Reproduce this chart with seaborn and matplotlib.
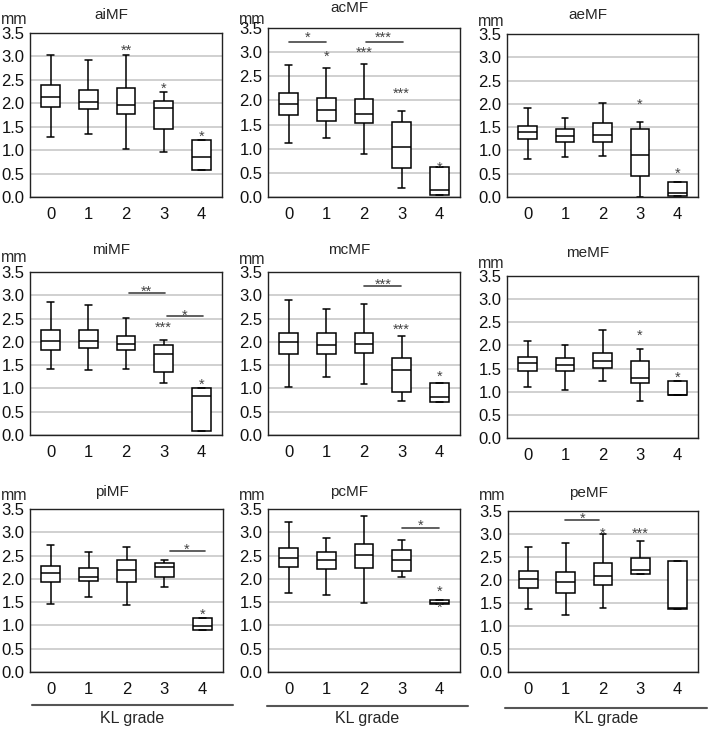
import numpy as np
import pandas as pd
import matplotlib
matplotlib.use("Agg")
import matplotlib.pyplot as plt
from matplotlib.lines import Line2D
import seaborn as sns

# five-number summaries per KL grade: [min, q1, median, q3, max]
grades = [0, 1, 2, 3, 4]
titles = ["aiMF", "acMF", "aeMF", "miMF", "mcMF", "meMF", "piMF", "pcMF", "peMF"]

aiMF = [[1.28, 1.92, 2.13, 2.38, 3.04], [1.34, 1.87, 2.02, 2.28, 2.93], [1.02, 1.78, 1.96, 2.33, 3.04],
        [0.95, 1.45, 1.90, 2.04, 2.24], [0.57, 0.57, 0.85, 1.21, 1.21]]
acMF = [[1.12, 1.70, 1.93, 2.15, 2.73], [1.23, 1.58, 1.81, 2.05, 2.67], [0.89, 1.53, 1.72, 2.03, 2.75],
        [0.19, 0.60, 1.04, 1.55, 1.79], [0.05, 0.05, 0.15, 0.62, 0.62]]
aeMF = [[0.81, 1.24, 1.40, 1.53, 1.91], [0.86, 1.18, 1.32, 1.46, 1.70], [0.89, 1.18, 1.34, 1.59, 2.01],
        [0.01, 0.46, 0.90, 1.45, 1.61], [0.02, 0.02, 0.09, 0.33, 0.33]]
miMF = [[1.42, 1.82, 2.01, 2.25, 2.85], [1.39, 1.87, 2.01, 2.25, 2.79], [1.42, 1.82, 1.96, 2.12, 2.51],
        [1.11, 1.35, 1.74, 1.93, 2.03], [0.08, 0.08, 0.83, 1.01, 1.01]]
mcMF = [[1.04, 1.74, 2.00, 2.20, 2.89], [1.24, 1.74, 1.93, 2.18, 2.70], [1.10, 1.76, 1.96, 2.18, 2.82],
        [0.73, 0.93, 1.39, 1.65, 2.13], [0.70, 0.70, 0.81, 1.11, 1.11]]
meMF = [[1.11, 1.45, 1.61, 1.75, 2.09], [1.04, 1.45, 1.58, 1.73, 2.01], [1.24, 1.51, 1.66, 1.84, 2.33],
        [0.81, 1.19, 1.30, 1.66, 1.92], [0.93, 0.93, 0.93, 1.24, 1.24]]
piMF = [[1.47, 1.93, 2.12, 2.28, 2.73], [1.61, 1.96, 2.05, 2.24, 2.58], [1.43, 1.93, 2.20, 2.41, 2.69],
        [1.83, 2.04, 2.25, 2.34, 2.40], [0.90, 0.90, 0.98, 1.17, 1.17]]
pcMF = [[1.70, 2.25, 2.45, 2.66, 3.22], [1.66, 2.21, 2.41, 2.58, 2.87], [1.48, 2.24, 2.52, 2.74, 3.35],
        [2.05, 2.16, 2.41, 2.62, 2.83], [1.47, 1.47, 1.49, 1.54, 1.54]]
peMF = [[1.37, 1.83, 2.03, 2.20, 2.72], [1.25, 1.72, 1.96, 2.17, 2.81], [1.39, 1.89, 2.09, 2.36, 3.00],
        [2.12, 2.14, 2.22, 2.48, 2.85], [1.36, 1.36, 1.40, 2.42, 2.42]]
panel_stats = [aiMF, acMF, aeMF, miMF, mcMF, meMF, piMF, pcMF, peMF]

# significance marks: (x, y, text) and bars: (x0, x1, y)
stars = [
    [(2, 3.20, "**"), (3, 2.40, "*"), (4, 1.36, "*")],
    [(0.5, 3.37, "*"), (1, 2.98, "*"), (2, 3.07, "***"), (2.5, 3.37, "***"), (3, 2.23, "***"), (4, 0.68, "*")],
    [(3, 2.07, "*"), (4, 0.58, "*")],
    [(2.55, 3.17, "**"), (3.55, 2.65, "*"), (3, 2.38, "***"), (4, 1.16, "*")],
    [(2.5, 3.32, "***"), (3, 2.35, "***"), (4, 1.34, "*")],
    [(3, 2.30, "*"), (4, 1.39, "*")],
    [(3.6, 2.71, "*"), (4, 1.32, "*")],
    [(3.5, 3.23, "*"), (4, 1.80, "*"), (4, 1.47, "*")],
    [(1.45, 3.42, "*"), (2, 3.10, "*"), (3, 3.10, "***")],
]
bars = [
    [],
    [(0, 1, 3.22), (2.05, 3.03, 3.22)],
    [],
    [(2.08, 3.03, 3.04), (3.08, 4.04, 2.56)],
    [(2.0, 2.97, 3.20)],
    [],
    [(3.14, 4.07, 2.59)],
    [(3.0, 4.0, 3.09)],
    [(0.97, 1.9, 3.30)],
]

rows = []
for name, stats in zip(titles, panel_stats):
    for g, s in zip(grades, stats):
        for v in s:
            rows.append({"panel": name, "grade": g, "mm": v})
df = pd.DataFrame(rows)

sns.set_style("white")
plt.rcParams["font.family"] = ["Liberation Sans", "DejaVu Sans"]

W, H = 708, 730
fig = plt.figure(figsize=(W / 100, H / 100), dpi=100)

# axes boxes in pixels: left, right, top, bottom
boxes = [(30, 222, 33, 197), (268, 460, 28, 197), (507, 698, 34, 197),
         (30, 222, 272, 435), (268, 460, 272, 435), (507, 698, 276, 438),
         (30, 223, 509, 672), (268, 460, 509, 672), (508, 698, 511, 672)]
title_dy = [18, 20, 19, 22, 22, 23, 17, 17, 18]
mm_dy = [14, 9, 12, 15, 12, 13, 14, 14, 16]

for i, name in enumerate(titles):
    l, r, t, b = boxes[i]
    ax = fig.add_axes([l / W, 1 - b / H, (r - l) / W, (b - t) / H])
    sub = df[df["panel"] == name]
    sns.boxplot(data=sub, x="grade", y="mm", whis=(0, 100), width=0.5,
                color="white", linecolor="black", linewidth=1.1,
                capwidths=0.18, ax=ax)
    ax.set_ylim(0, 3.5)
    ax.set_xlim(-0.55, 4.55)
    ax.set_yticks(np.arange(0, 3.51, 0.5))
    ax.set_yticklabels([f"{v:.1f}" for v in np.arange(0, 3.51, 0.5)])
    ax.set_xlabel("")
    ax.set_ylabel("")
    ax.tick_params(axis="both", length=0, labelsize=12, colors="#111111")
    ax.tick_params(axis="y", pad=4)
    ax.tick_params(axis="x", pad=7)
    ax.yaxis.grid(True, color="#c8c8c8", linewidth=1.2)
    ax.set_axisbelow(True)
    for sp in ax.spines.values():
        sp.set_color("#222222")
        sp.set_linewidth(1.0)

    ax.annotate(name, xy=(0.5, 1), xycoords="axes fraction", xytext=(-15, title_dy[i]),
                textcoords="offset pixels", ha="center", va="center", fontsize=11)
    ax.annotate("mm", xy=(0, 1), xycoords="axes fraction", xytext=(-16, mm_dy[i]),
                textcoords="offset pixels", ha="center", va="center", fontsize=11.5)

    for x0, x1, y in bars[i]:
        ax.plot([x0, x1], [y, y], color="#444444", linewidth=1.2)
    for x, y, s in stars[i]:
        ax.annotate(s, xy=(x, y), xytext=(0, -8), textcoords="offset pixels",
                    ha="center", va="baseline", fontsize=10.5, color="#444444")

# KL grade group lines under the bottom row
for (x0, x1, y), cx in zip([(32, 233, 705), (267, 468, 706), (505, 707, 708)], [132, 367, 606]):
    fig.add_artist(Line2D([x0 / W, x1 / W], [1 - y / H, 1 - y / H], transform=fig.transFigure,
                          color="#555555", linewidth=1.5))
    fig.text(cx / W, 1 - 718 / H, "KL grade", ha="center", va="center", fontsize=11.5)

fig.savefig("out.png", dpi=100)
